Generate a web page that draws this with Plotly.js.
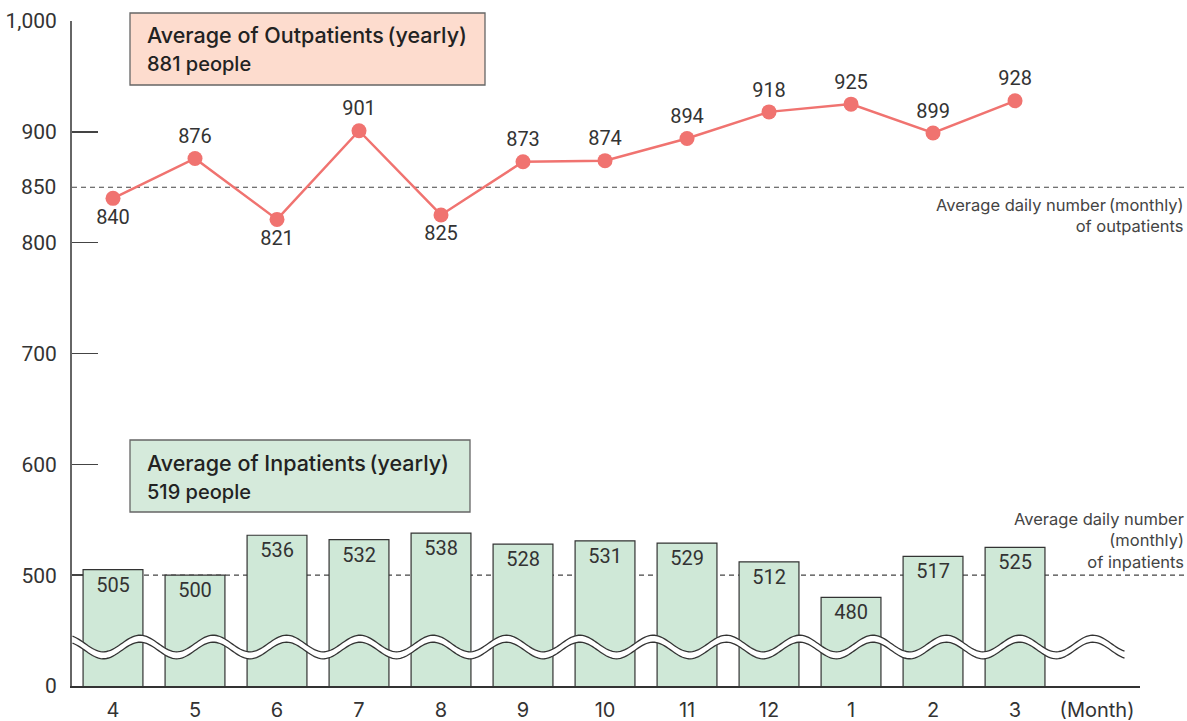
<!DOCTYPE html>
<html>
<head>
<meta charset="utf-8">
<script src="https://cdn.plot.ly/plotly-3.0.1.min.js"></script>
<style>html,body{margin:0;padding:0;background:#fff;}#chart{width:1187px;height:721px;}</style>
</head>
<body>
<div id="chart"></div>
<script>
// ---- data ----
const months = ['4','5','6','7','8','9','10','11','12','1','2','3'];
const outpatients = [840, 876, 821, 901, 825, 873, 874, 894, 918, 925, 899, 928];
const inpatients = [505, 500, 536, 532, 538, 528, 531, 529, 512, 480, 517, 525];
const outYearly = 881;
const inYearly = 519;
const outRefLine = 850;
const inRefLine = 500;
const axisFloor = 400;   // axis break: this level is labelled "0"
const axisTop = 1000;
const yTickVals = [400, 500, 600, 700, 800, 900, 1000];
const yTickText = ['0', '500', '600', '700', '800', '900', '1,000'];
const monthUnit = '(Month)';

// ---- styles / geometry ----
const NUMFONT = 'Roboto, sans-serif';
const TXTFONT = 'Inter, Noto Sans, sans-serif';
const W = 1187, H = 721;
const M = {l: 72, r: 47, t: 21, b: 35};
const PW = W - M.l - M.r, PH = H - M.t - M.b;
const px2x = p => (p - M.l) / PW;
const py2y = p => (H - M.b - p) / PH;
const v2y = v => (v - axisFloor) / (axisTop - axisFloor);

const labelPos = ['bottom center','top center','bottom center','top center','bottom center',
  'top center','top center','top center','top center','top center','top center','top center'];

// axis-break wave decoration (pixel space -> paper)
function wave(offset) {
  const pts = [];
  for (let x = 72.5; x <= 1125; x += 2) {
    const y = 643.5 - 8.3 * Math.cos(2 * Math.PI * (x - 140) / 73.3) + offset;
    pts.push([px2x(x), py2y(y)]);
  }
  return pts;
}
const topW = wave(0), botW = wave(7);
const toPath = (pts) => pts.map((p, i) => (i ? 'L' : 'M') + p[0].toFixed(5) + ',' + p[1].toFixed(5)).join(' ');
const bandPath = toPath(topW) + ' ' + botW.slice().reverse().map(p => 'L' + p[0].toFixed(5) + ',' + p[1].toFixed(5)).join(' ') + ' Z';

const traces = [
  {
    type: 'bar', x: months, y: inpatients,
    marker: {color: '#cfe8d7', line: {color: '#333', width: 1.2}},
    text: inpatients.map(String), textposition: 'inside', insidetextanchor: 'end',
    textfont: {family: NUMFONT, size: 20, color: '#333'},
    hoverinfo: 'x+y'
  },
  {
    type: 'scatter', mode: 'lines+markers+text', x: months, y: outpatients,
    line: {color: '#f07370', width: 2.5},
    marker: {color: '#f07370', size: 15},
    text: outpatients.map(String), textposition: labelPos,
    textfont: {family: NUMFONT, size: 20, color: '#333'},
    cliponaxis: false, hoverinfo: 'x+y'
  }
];

const shapes = [
  {type: 'line', xref: 'paper', yref: 'paper', x0: 0, x1: px2x(1186), y0: v2y(outRefLine), y1: v2y(outRefLine),
   line: {color: '#444', width: 1.2, dash: '5px,4px'}, layer: 'below'},
  {type: 'line', xref: 'paper', yref: 'paper', x0: 0, x1: px2x(1186), y0: v2y(inRefLine), y1: v2y(inRefLine),
   line: {color: '#444', width: 1.2, dash: '5px,4px'}, layer: 'below'},
  {type: 'rect', xref: 'paper', yref: 'paper', x0: px2x(130), x1: px2x(485), y0: py2y(85), y1: py2y(13),
   fillcolor: '#fddcce', line: {color: '#666', width: 1.3}},
  {type: 'rect', xref: 'paper', yref: 'paper', x0: px2x(130), x1: px2x(470), y0: py2y(512), y1: py2y(440),
   fillcolor: '#d5eadb', line: {color: '#666', width: 1.3}},
  {type: 'path', xref: 'paper', yref: 'paper', path: bandPath, fillcolor: '#ffffff', line: {width: 0}, layer: 'above'},
  {type: 'path', xref: 'paper', yref: 'paper', path: toPath(topW), fillcolor: 'rgba(0,0,0,0)', line: {color: '#333', width: 1.3}, layer: 'above'},
  {type: 'path', xref: 'paper', yref: 'paper', path: toPath(botW), fillcolor: 'rgba(0,0,0,0)', line: {color: '#333', width: 1.3}, layer: 'above'}
];

const ann = (text, xp, yp, xanchor, family, size, weight, color) => ({
  text, xref: 'paper', yref: 'paper', x: px2x(xp), y: py2y(yp), xanchor, yanchor: 'middle',
  align: xanchor, showarrow: false,
  font: {family, size, color: color || '#222', weight: weight || 'normal'}
});

const annotations = [
  ann('Average of Outpatients\u2009(yearly)<br><span style="font-size:20px">' + outYearly + ' people</span>', 145, 49.5, 'left', TXTFONT, 21.5, 500),
  ann('Average of Inpatients\u2009(yearly)<br><span style="font-size:20px">' + inYearly + ' people</span>', 145, 477.5, 'left', TXTFONT, 21.5, 500),
  ann('Average daily number\u2009(monthly)<br>of outpatients', 1186, 215.5, 'right', TXTFONT, 16.5, 'normal', '#444'),
  ann('Average daily number<br>(monthly)<br>of inpatients', 1186, 540, 'right', TXTFONT, 16.5, 'normal', '#444'),
  // label for the reference level on the value axis (no tick mark in the original)
  ann(String(outRefLine), 58, 0, 'right', NUMFONT, 21, 'normal', '#333')
];
annotations[annotations.length - 1].y = v2y(outRefLine);

const layout = {
  width: W, height: H, margin: {l: M.l, r: M.r, t: M.t, b: M.b, pad: 0},
  paper_bgcolor: '#ffffff', plot_bgcolor: 'rgba(0,0,0,0)',
  showlegend: false, bargap: 0.27,
  font: {family: TXTFONT, color: '#333'},
  xaxis: {
    type: 'category', categoryarray: months.concat([monthUnit]), range: [-0.5, 12.524],
    showline: true, linecolor: '#333', linewidth: 1.5, ticks: '', showgrid: false, zeroline: false,
    ticklabelstandoff: 5,
    tickfont: {family: TXTFONT, size: 20, color: '#333'}, fixedrange: true
  },
  yaxis: {
    range: [axisFloor, axisTop], tickmode: 'array', tickvals: yTickVals, ticktext: yTickText,
    ticks: 'inside', ticklen: 26, tickwidth: 1.5, tickcolor: '#444',
    showline: true, linecolor: '#666', linewidth: 2, showgrid: false, zeroline: false,
    ticklabelstandoff: 9,
    layer: 'below traces', tickfont: {family: NUMFONT, size: 21, color: '#333'}, fixedrange: true
  },
  shapes, annotations
};

Plotly.newPlot('chart', traces, layout, {displayModeBar: false, staticPlot: true});
</script>
</body>
</html>
